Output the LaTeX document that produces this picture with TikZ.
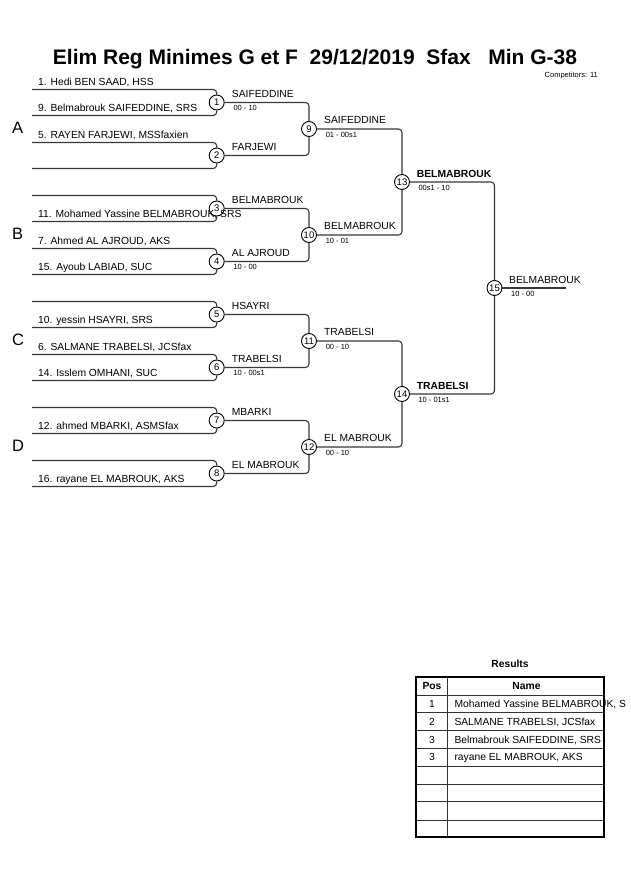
\documentclass[tikz,border=0pt]{standalone}
\usepackage{fontspec}
\setmainfont{Liberation Sans}
\begin{document}
\begin{tikzpicture}[x=1pt,y=-1pt,
  br/.style={draw=black!78, line width=1.1pt, rounded corners=3.5pt},
  mc/.style={circle, draw=black, line width=0.9pt, fill=white, minimum size=15pt, inner sep=0pt, font=\fontsize{9.5}{10}\selectfont},
  pname/.style={anchor=base west, inner sep=0pt, font=\fontsize{10.3}{12}\selectfont},
  wname/.style={anchor=base west, inner sep=0pt, font=\fontsize{10.3}{12}\selectfont},
  wbold/.style={anchor=base west, inner sep=0pt, font=\fontsize{10.3}{12}\selectfont\bfseries},
  score/.style={anchor=base west, inner sep=0pt, font=\fontsize{7.5}{9}\selectfont},
  grp/.style={anchor=base west, inner sep=0pt, font=\fontsize{16.5}{18}\selectfont},
  cell/.style={anchor=base, inner sep=0pt, font=\fontsize{10.3}{12}\selectfont},
  cellb/.style={anchor=base, inner sep=0pt, font=\fontsize{10.3}{12}\selectfont\bfseries},
  celll/.style={anchor=base west, inner sep=0pt, font=\fontsize{10.3}{12}\selectfont},
  tline/.style={draw=black!80, line width=0.9pt},
]
\useasboundingbox (0,0) rectangle (630,891);

% title
\node[anchor=base, inner sep=0pt, font=\fontsize{21}{24}\selectfont\bfseries] (title) at (315,65)
  {Elim Reg Minimes G et F\ \ 29/12/2019\ \ Sfax\ \ \ Min G-38};
\node[anchor=base east, inner sep=0pt, font=\fontsize{7.5}{9}\selectfont] (comp) at (598,77.7) {Competitors: 11};

% round 1 matches
\foreach \k in {1,...,8} {
  \pgfmathsetmacro\yy{102.5+53*(\k-1)}
  \node[mc] (m\k) at (216.7,\yy) {\k};
  \coordinate (sa\k) at (32,\yy-13);
  \coordinate (sb\k) at (32,\yy+13);
}
% round 2
\foreach \k [count=\i from 0] in {9,10,11,12} {
  \pgfmathsetmacro\yy{129+106*\i}
  \node[mc] (m\k) at (309,\yy) {\k};
}
\node[mc] (m13) at (402,182) {13};
\node[mc] (m14) at (402,394) {14};
\node[mc] (m15) at (494.5,288) {15};
\coordinate (fin) at (566,288);

% connectors
\foreach \k in {1,...,8} {
  \draw[br] (sa\k) -| (m\k);
  \draw[br] (sb\k) -| (m\k);
}
\draw[br] (m1) -| (m9);
\draw[br] (m2) -| (m9);
\draw[br] (m3) -| (m10);
\draw[br] (m4) -| (m10);
\draw[br] (m5) -| (m11);
\draw[br] (m6) -| (m11);
\draw[br] (m7) -| (m12);
\draw[br] (m8) -| (m12);
\draw[br] (m9) -| (m13);
\draw[br] (m10) -| (m13);
\draw[br] (m11) -| (m14);
\draw[br] (m12) -| (m14);
\draw[br] (m13) -| (m15);
\draw[br] (m14) -| (m15);
\draw[br] (m15) -- (fin);

% group letters
\node[grp] (gA) at (12,133) {A};
\node[grp] (gB) at (12,239) {B};
\node[grp] (gC) at (12,345) {C};
\node[grp] (gD) at (12,451) {D};

% player names
\node[pname] (n1) at (38,85.5) {1. Hedi BEN SAAD, HSS};
\node[pname] (n9) at (38,111.5) {9. Belmabrouk SAIFEDDINE, SRS};
\node[pname] (n5) at (38,138.5) {5. RAYEN FARJEWI, MSSfaxien};
\node[pname] (n11) at (38,217.5) {11. Mohamed Yassine BELMABROUK, SRS};
\node[pname] (n7) at (38,244.5) {7. Ahmed AL AJROUD, AKS};
\node[pname] (n15) at (38,270.5) {15. Ayoub LABIAD, SUC};
\node[pname] (n10) at (38,323.5) {10. yessin HSAYRI, SRS};
\node[pname] (n6) at (38,350.5) {6. SALMANE TRABELSI, JCSfax};
\node[pname] (n14) at (38,376.5) {14. Isslem OMHANI, SUC};
\node[pname] (n12) at (38,429.5) {12. ahmed MBARKI, ASMSfax};
\node[pname] (n16) at (38,482.5) {16. rayane EL MABROUK, AKS};

% winners round 1
\node[wname] (w1) at (231.7,97) {SAIFEDDINE};
\node[score] (c1) at (233.3,110.7) {00 - 10};
\node[wname] (w2) at (231.7,150) {FARJEWI};
\node[wname] (w3) at (231.7,203) {BELMABROUK};
\node[wname] (w4) at (231.7,256) {AL AJROUD};
\node[score] (c4) at (233.3,269.7) {10 - 00};
\node[wname] (w5) at (231.7,309) {HSAYRI};
\node[wname] (w6) at (231.7,362) {TRABELSI};
\node[score] (c6) at (233.3,375.7) {10 - 00s1};
\node[wname] (w7) at (231.7,415) {MBARKI};
\node[wname] (w8) at (231.7,468) {EL MABROUK};
% winners round 2
\node[wname] (w9) at (324,123.5) {SAIFEDDINE};
\node[score] (c9) at (325.6,137.2) {01 - 00s1};
\node[wname] (w10) at (324,229.5) {BELMABROUK};
\node[score] (c10) at (325.6,243.2) {10 - 01};
\node[wname] (w11) at (324,335.5) {TRABELSI};
\node[score] (c11) at (325.6,349.2) {00 - 10};
\node[wname] (w12) at (324,441.5) {EL MABROUK};
\node[score] (c12) at (325.6,455.2) {00 - 10};
% winners round 3
\node[wbold] (w13) at (416.7,177) {BELMABROUK};
\node[score] (c13) at (418.3,190.7) {00s1 - 10};
\node[wbold] (w14) at (416.7,389) {TRABELSI};
\node[score] (c14) at (418.3,402.7) {10 - 01s1};
% final
\node[wname] (w15) at (509,283) {BELMABROUK};
\node[score] (c15) at (511,296.7) {10 - 00};

% results table
\node[cellb] (rt) at (510,667.3) {Results};
\foreach \yy in {695,712.7,730.3,748.3,766,784,801.7,820} {
  \draw[tline] (416,\yy) -- (604.3,\yy);
}
\draw[tline] (447.3,676.7) -- (447.3,836.7);
\node[cellb] (hp) at (432,689.5) {Pos};
\node[cellb] (hn) at (526.5,689.5) {Name};
\node[cell] (p1) at (432,707.6) {1};
\node[celll] (r1) at (454.3,707.6) {Mohamed Yassine BELMABROUK, S};
\node[cell] (p2) at (432,725.3) {2};
\node[celll] (r2) at (454.3,725.3) {SALMANE TRABELSI, JCSfax};
\node[cell] (p3) at (432,743.1) {3};
\node[celll] (r3) at (454.3,743.1) {Belmabrouk SAIFEDDINE, SRS};
\node[cell] (p4) at (432,760.9) {3};
\node[celll] (r4) at (454.3,760.9) {rayane EL MABROUK, AKS};
\draw[line width=1.8pt] (416,676.7) rectangle (604.3,836.7);
\end{tikzpicture}
\end{document}
